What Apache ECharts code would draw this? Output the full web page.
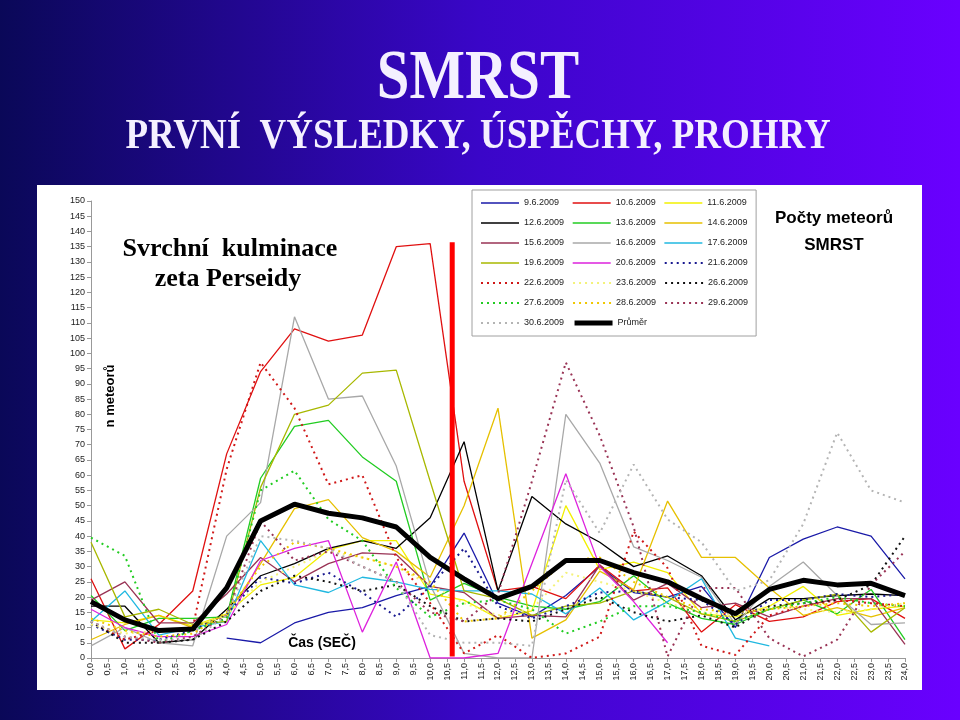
<!DOCTYPE html>
<html><head><meta charset="utf-8">
<script src="https://cdn.jsdelivr.net/npm/echarts@6/dist/echarts.min.js"></script>
<style>html,body{margin:0;padding:0;width:960px;height:720px;overflow:hidden;}#c{width:960px;height:720px;}</style>
</head><body><div id="c"></div>
<script>
const hours = [0,1,2,3,4,5,6,7,8,9,10,11,12,13,14,15,16,17,18,19,20,21,22,23,24];
const names = ['9.6.2009','10.6.2009','11.6.2009','12.6.2009','13.6.2009','14.6.2009','15.6.2009','16.6.2009','17.6.2009','19.6.2009','20.6.2009','21.6.2009','22.6.2009','23.6.2009','26.6.2009','27.6.2009','28.6.2009','29.6.2009','30.6.2009','Průměr'];
const s0906 = [null,null,null,null,6.5,5,11.5,15,16.5,20.5,23.5,41,18,13.5,20.5,30,21.5,20,23.5,10,33,39,43,40,26];
const s1006 = [26,3,11,22,67,94,108,104,106,135,136,58,22,23.5,19.5,30.5,22,23,8.5,17.5,12,13.5,18.5,19.5,13];
const s1106 = [12.5,11.5,14,10.5,14.5,24,26.5,35.5,38.5,38.5,21,19,13,15.5,50,29,31.5,28,14.5,13.5,17,23.5,14,16,17];
const s1206 = [17,17,5,6,16,27,31,36,38.5,36,46,71,22,53,44,38,30,33.5,27,12.5,19.5,19.5,20.5,21,20.5];
const s1306 = [20.5,9,13,13,13.5,59,76,78,66,58,19,24.5,20,17,16,18.5,27,18,13,11,16,19,14.5,22.5,6];
const s1406 = [6,11,14,10,14,31,49,52,39.5,35,26.5,50,82,6.5,12.5,28.5,22.5,51.5,33,33,23,14,16.5,13.5,16.5];
const s1506 = [19,25,11.5,11.5,21,33,25,31,34.5,34,23.5,21.5,13,14,13.5,30.5,19,24.5,16.5,18,13.5,17,19.5,19.5,4.5];
const s1606 = [4,10,5,4,40,51,112,85,86,63,24,1.5,0,0,80,64,36.5,32,26.5,11,23.5,31.5,20.5,11,11.5];
const s1706 = [12,22,7.5,10,12,38.5,24,21.5,26.5,25,22.5,22,22,21,14.5,23,12.5,18.5,26,6.5,4,null,null,null,null];
const s1906 = [38,13.5,16,11,12,56,80,83,93.5,94.5,58,22,19.5,14,17,18,22,20,14.5,12,16,19,21,8.5,16.5];
const s2006 = [16,10,7,7,11,32,36,38.5,8.5,31.5,0,0,1.5,31,60.5,30,18.5,5,null,null,null,null,null,null,null];
const s2106 = [11,6,6,9,14.5,26.5,24.5,28,21.5,13.5,23.5,36,17,13,17,21.5,22,20,19,11,19,19,21,20,21];
const s2206 = [12,6,9,10,62,97,82,57,60,33,18,1.5,7.5,0,1.5,7,41.5,29.5,4,1,14,17,19,18,17];
const s2306 = [11,8,9,10,14,25,30,35,33,30,24,18,14,16,28,25,22,18,15,14,17,16,15,16,18];
const s2606 = [12,5,5,6,12,22,27,25,22,24,17,12,13,12,16,20,15,12,14,10,17,18,19,24,40];
const s2706 = [39.5,33.5,5,9,13,55,61.5,45.5,38.5,23,13.5,18,19,16,8,12,17,17,15,12,16,18,20,18,17];
const s2806 = [13,9,7,8,15,30,38,36,33,30,25,12,13,22,32,33,25,20,16,15,16,17,18,17,18];
const s2906 = [12,7,5,7,14,45,32,35,30,25,15,12,21,58,97,73,43,0.5,23,23,6.5,0.5,6,24,35];
const s3006 = [12,7,6,6,14,40,38.5,36,30,25,7.5,5,5,4,58.5,41,63.5,45.5,38,22,25.5,44,74,55,51];
const prumer = [18.5,12.5,9,9.5,23,45,50.5,47.5,46,43,33,26,19.5,23.5,32,32,28,25,19.5,14.5,22.5,25.5,24,24.5,20.5];
const markerHour = [10.65, 10.65];
const markerVal = [0.5, 136.5];

const values = [s0906,s1006,s1106,s1206,s1306,s1406,s1506,s1606,s1706,s1906,s2006,s2106,s2206,s2306,s2606,s2706,s2806,s2906,s3006,prumer];
const colors = ['#1a1aa8','#e01010','#f2f000','#000000','#22cc22','#e6c000','#993355','#a8a8a8','#20b8e0','#a8b800','#dd22dd','#1a1a90','#d01818','#f4f27a','#111111','#22cc22','#f0c800','#993355','#b4b4b4','#000000'];
const dotted = [false,false,false,false,false,false,false,false,false,false,false,true,true,true,true,true,true,true,true,false];
const widthOf = i => i === 19 ? 5 : (dotted[i] ? 2 : 1.3);

const series = names.map((n, i) => ({
  name: n, type: 'line', symbol: 'none', z: i === 19 ? 10 : 3,
  data: hours.map((h, k) => [h, values[i][k]]).filter(p => p[1] !== null),
  lineStyle: { color: colors[i], width: widthOf(i), type: dotted[i] ? [2, 4] : 'solid' },
  itemStyle: { color: colors[i] },
  emphasis: { disabled: true }
}));
series.push({
  name: 'marker', type: 'line', symbol: 'none', z: 12,
  data: markerHour.map((h, k) => [h, markerVal[k]]),
  lineStyle: { color: '#ff0000', width: 5 }
});

const chart = echarts.init(document.getElementById('c'));
chart.setOption({
  animation: false,
  backgroundColor: new echarts.graphic.LinearGradient(0, 0, 1, 0, [
    { offset: 0, color: '#0a0858' }, { offset: 0.5, color: '#3a06c8' }, { offset: 1, color: '#6a00ff' }
  ]),
  graphic: [
    { type: 'rect', z: 0, shape: { x: 37, y: 185, width: 885, height: 505 }, style: { fill: '#ffffff' } },
    { type: 'text', z: 100, x: 478, y: 80, scaleX: 0.84, style: { text: 'SMRST', fill: '#f4f0ff', font: 'bold 70px "Liberation Serif"', textAlign: 'center', textVerticalAlign: 'middle' } },
    { type: 'text', z: 100, x: 478, y: 137, scaleX: 0.88, style: { text: 'PRVNÍ  VÝSLEDKY, ÚSPĚCHY, PROHRY', fill: '#f4f0ff', font: 'bold 42px "Liberation Serif"', textAlign: 'center', textVerticalAlign: 'middle' } },
    { type: 'text', z: 100, x: 230, y: 262, style: { text: 'Svrchní  kulminace', fill: '#000', font: 'bold 26px "Liberation Serif"', textAlign: 'center', textVerticalAlign: 'bottom' } },
    { type: 'text', z: 100, x: 228, y: 292, style: { text: 'zeta Perseidy', fill: '#000', font: 'bold 26px "Liberation Serif"', textAlign: 'center', textVerticalAlign: 'bottom' } },
    { type: 'text', z: 100, x: 834, y: 227, style: { text: 'Počty meteorů', fill: '#000', font: 'bold 17px "Liberation Sans"', textAlign: 'center', textVerticalAlign: 'bottom' } },
    { type: 'text', z: 100, x: 834, y: 254, style: { text: 'SMRST', fill: '#000', font: 'bold 17px "Liberation Sans"', textAlign: 'center', textVerticalAlign: 'bottom' } },
    { type: 'text', z: 100, x: 110, y: 396, rotation: Math.PI / 2, style: { text: 'n meteorů', fill: '#000', font: 'bold 13px "Liberation Sans"', textAlign: 'center', textVerticalAlign: 'middle' } },
    { type: 'text', z: 100, x: 322, y: 643, style: { text: 'Čas (SEČ)', fill: '#000', font: 'bold 14px "Liberation Sans"', textAlign: 'center', textVerticalAlign: 'middle' } }
  ],
  legend: {
    data: names.map((n, i) => ({ name: n, lineStyle: { width: widthOf(i) } })),
    left: 472, top: 190, width: 270,
    padding: [7, 8, 7, 8],
    backgroundColor: '#fff', borderColor: '#a0a0a0', borderWidth: 1,
    itemWidth: 38, itemHeight: 10, itemGap: 8,
    itemStyle: { opacity: 0 },
    textStyle: { fontSize: 9, fontFamily: 'Liberation Sans', color: '#222', width: 40, lineHeight: 12, overflow: 'none' },
    selectedMode: false
  },
  grid: { left: 91, right: 55, top: 201, bottom: 62, containLabel: false },
  xAxis: {
    type: 'value', min: 0, max: 24, interval: 0.5,
    axisLine: { lineStyle: { color: '#999' } },
    axisTick: { show: true, length: 4, lineStyle: { color: '#999' } },
    splitLine: { show: false },
    axisLabel: { rotate: 90, fontSize: 9, color: '#222', fontFamily: 'Liberation Sans', margin: 5, formatter: v => v.toFixed(1).replace('.', ',') }
  },
  yAxis: {
    type: 'value', min: 0, max: 150, interval: 5,
    axisLine: { show: true, lineStyle: { color: '#999' } },
    axisTick: { show: true, length: 4, lineStyle: { color: '#999' } },
    splitLine: { show: false },
    axisLabel: { fontSize: 9, color: '#222', fontFamily: 'Liberation Sans', margin: 6 }
  },
  series: series
});
</script></body></html>
